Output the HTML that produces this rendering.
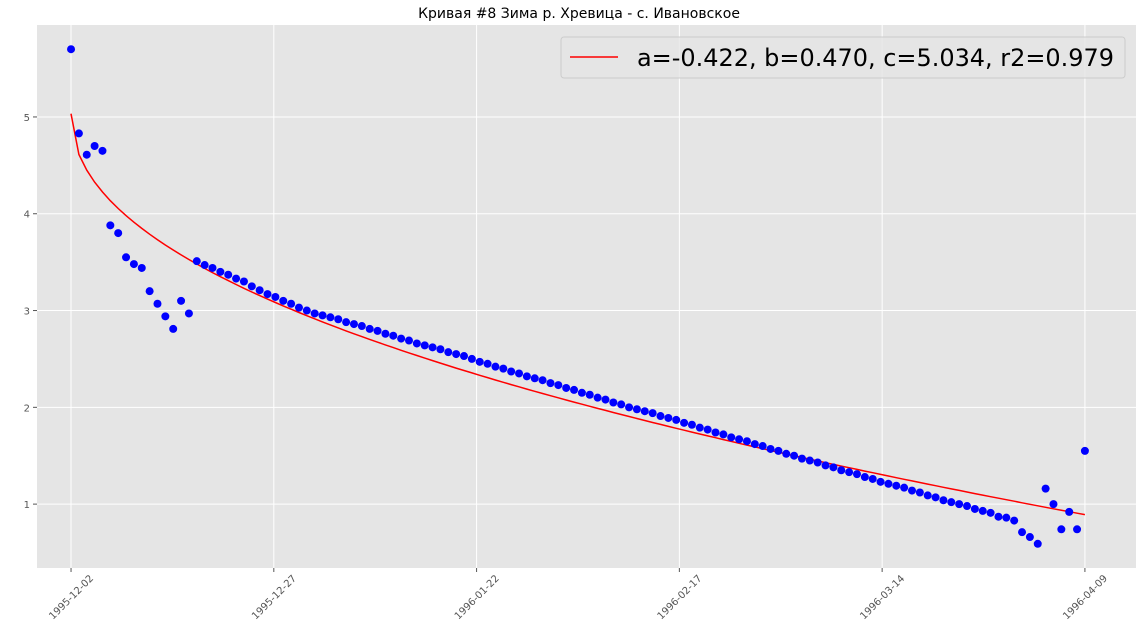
<!DOCTYPE html>
<html><head><meta charset="utf-8"><style>
body{margin:0;background:#fff;font-family:"DejaVu Sans","Liberation Sans",sans-serif}
svg{display:block}
</style></head><body>
<svg id="chart" width="1143" height="630" xmlns="http://www.w3.org/2000/svg" font-family="DejaVu Sans, Liberation Sans, sans-serif"></svg>
<script>
const tickLabels=["1995-12-02","1995-12-27","1996-01-22","1996-02-17","1996-03-14","1996-04-09"];
const tickDays=[0,25.8,51.6,77.4,103.2,129];
const yTicks=[1,2,3,4,5];
const values=[5.70,4.83,4.61,4.70,4.65,3.88,3.80,3.55,3.48,3.44,3.20,3.07,2.94,2.81,3.10,2.97,
3.51,3.47,3.44,3.40,3.37,3.33,3.30,3.25,3.21,3.17,3.14,
3.10,3.07,3.03,3.00,2.97,2.95,2.93,2.91,2.88,2.86,
2.84,2.81,2.79,2.76,2.74,2.71,2.69,2.66,2.64,2.62,
2.60,2.57,2.55,2.53,2.50,2.47,
2.45,2.42,2.40,2.37,2.35,2.32,2.30,2.28,2.25,2.23,
2.20,2.18,2.15,2.13,2.10,2.08,2.05,2.03,2.00,1.98,
1.96,1.94,1.91,1.89,1.87,
1.84,1.82,1.79,1.77,1.74,1.72,1.69,1.67,1.65,1.62,1.60,1.57,1.55,
1.52,1.50,1.47,1.45,1.43,1.40,1.38,1.35,1.33,1.31,1.28,1.26,
1.23,1.21,1.19,1.17,1.14,1.12,1.09,1.07,
1.04,1.02,1.00,0.98,0.95,0.93,0.91,0.87,0.86,0.83,0.71,0.66,0.59,
1.16,1.00,0.74,0.92,0.74,1.55];
const fitA=-0.422, fitB=0.470, fitC=5.034;

const NS="http://www.w3.org/2000/svg";
const svg=document.getElementById('chart');
const L=37,R=1136,T=25,B=568;
const xmin=-4.33,xmax=135.5,ymin=0.34,ymax=5.95;
const X=d=>L+(d-xmin)/(xmax-xmin)*(R-L);
const Y=v=>B-(v-ymin)/(ymax-ymin)*(B-T);
function mk(tag,attrs,parent){const e=document.createElementNS(NS,tag);for(const k in attrs)e.setAttribute(k,attrs[k]);(parent||svg).appendChild(e);return e;}

const bg=mk('rect',{x:L,y:T,width:R-L,height:B-T,fill:'#e5e5e5'});



yTicks.forEach(v=>{
  const g=mk('line',{x1:L,x2:R,y1:Y(v),y2:Y(v),stroke:'#fff','stroke-width':1});
  
  
  const tk=mk('line',{x1:L-4,x2:L,y1:Y(v),y2:Y(v),stroke:'#555'});
  
  
  const t=mk('text',{x:L-7,y:Y(v)+4,'text-anchor':'end','font-size':10,fill:'#555'});
  t.textContent=v;
  
  
});
tickDays.forEach((d,i)=>{
  const x=X(d);
  const g=mk('line',{x1:x,x2:x,y1:T,y2:B,stroke:'#fff','stroke-width':1});
  
  
  const tk=mk('line',{x1:x,x2:x,y1:B,y2:B+4,stroke:'#555'});
  
  
  const cy=B+29;
  const t=mk('text',{x:x,y:cy+3.5,'text-anchor':'middle','font-size':10,fill:'#555',transform:`rotate(-45 ${x} ${cy})`});
  t.textContent=tickLabels[i];
  
  
});

let pts=[];
for(let d=0;d<values.length;d++){pts.push(X(d).toFixed(1)+','+Y(fitA*Math.pow(d,fitB)+fitC).toFixed(1));}
const fit=mk('polyline',{points:pts.join(' '),fill:'none',stroke:'#ff0000','stroke-width':1.5});



values.forEach((v,d)=>{
  const c=mk('circle',{cx:X(d),cy:Y(v),r:4,fill:'#0000ff'});
  
  
});

const title=mk('text',{x:579,y:18,'text-anchor':'middle','font-size':14,fill:'#000'});
title.textContent='Кривая #8 Зима р. Хревица - с. Ивановское';



const lg=mk('rect',{x:561,y:37,width:564,height:41,rx:3,fill:'#e5e5e5',stroke:'#ccc','fill-opacity':0.8});


const ll=mk('line',{x1:570,x2:618,y1:57,y2:57,stroke:'#ff0000','stroke-width':1.5});


const lt=mk('text',{x:637,y:66,'font-size':24,fill:'#000',textLength:477,lengthAdjust:'spacingAndGlyphs'});
lt.textContent='a=-0.422, b=0.470, c=5.034, r2=0.979';


</script>
</body></html>
